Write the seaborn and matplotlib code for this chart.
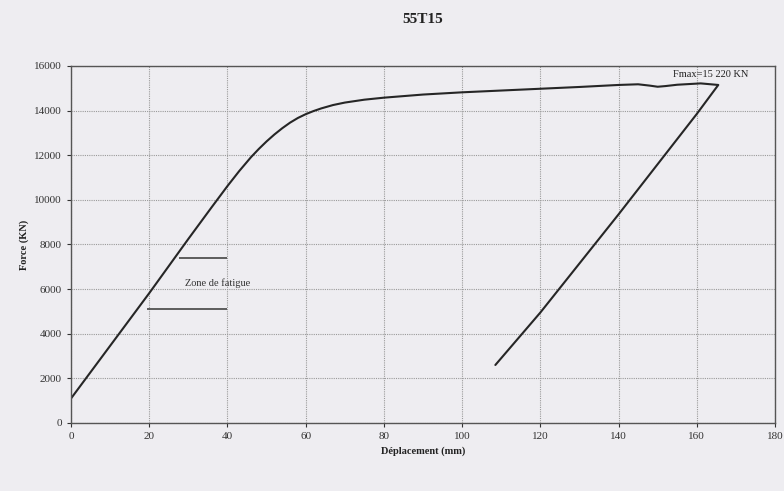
import numpy as np
import pandas as pd
import matplotlib.pyplot as plt
import seaborn as sns

# Data --------------------------------------------------------------------
deplacement = [0, 10, 20, 30, 36, 40, 43, 46, 48, 50, 52, 54, 56, 58, 60, 62, 64, 67, 70,
               75, 80, 90, 100, 110, 120, 130, 140, 145, 148, 150, 152, 155,
               160, 161, 165.5,
               160, 150, 140, 130, 120, 108.5]
force = [1100, 3460, 5820, 8250, 9680, 10620, 11290, 11910, 12280, 12620, 12930, 13210,
         13460, 13670, 13840, 13980, 14100, 14250, 14360, 14490, 14580, 14720, 14820,
         14900, 14980, 15060, 15150, 15180, 15120, 15070, 15100, 15160, 15210, 15220, 15150,
         13850, 11600, 9350, 7150, 4950, 2600]

# Zone de fatigue limits (x start, x end, force)
zone_x0 = [27.5, 19.5]
zone_x1 = [40, 40]
zone_y = [7400, 5100]

fmax_label = "Fmax=15 220 KN"

df = pd.DataFrame({"x": deplacement, "y": force})

# Plotting -----------------------------------------------------------------
sns.set_style("whitegrid")
plt.rcParams["font.family"] = ["Liberation Serif", "DejaVu Serif"]

bg = "#eeedf1"
fig = plt.figure(figsize=(7.84, 4.91), dpi=100, facecolor=bg)
ax = fig.add_axes([0.0906, 0.1385, 0.8979, 0.7271], facecolor=bg)

sns.lineplot(data=df, x="x", y="y", sort=False, estimator=None,
             color="#262626", linewidth=1.5, ax=ax)

ax.hlines(zone_y, zone_x0, zone_x1, color="#444444", linewidth=1.2)
ax.text(37.5, 6250, "Zone de fatigue", fontsize=7.5, ha="center", va="center",
        color="#333333")
ax.text(154, 15620, fmax_label, fontsize=7.5, ha="left", va="center", color="#222222")

ax.set_xlim(0, 180)
ax.set_ylim(0, 16000)
ax.set_xticks(np.arange(0, 181, 20))
ax.set_yticks(np.arange(0, 16001, 2000))
ax.grid(True, color="#9a9a9a", linestyle=(0, (1, 1)), linewidth=0.8)

for s in ax.spines.values():
    s.set_visible(True)
    s.set_color("#555555")
    s.set_linewidth(1.0)

ax.tick_params(axis="both", labelsize=8, colors="#333333", length=3, direction="out",
               bottom=True, left=True)
ax.set_xlabel("Déplacement (mm)", fontsize=7.5, fontweight="bold", color="#222222")
ax.set_ylabel("Force (KN)", fontsize=7.5, fontweight="bold", color="#222222")
ax.set_title("55T15", fontsize=11, fontweight="bold", color="#222222", pad=31)

fig.savefig("out.png", dpi=100, facecolor=bg)
